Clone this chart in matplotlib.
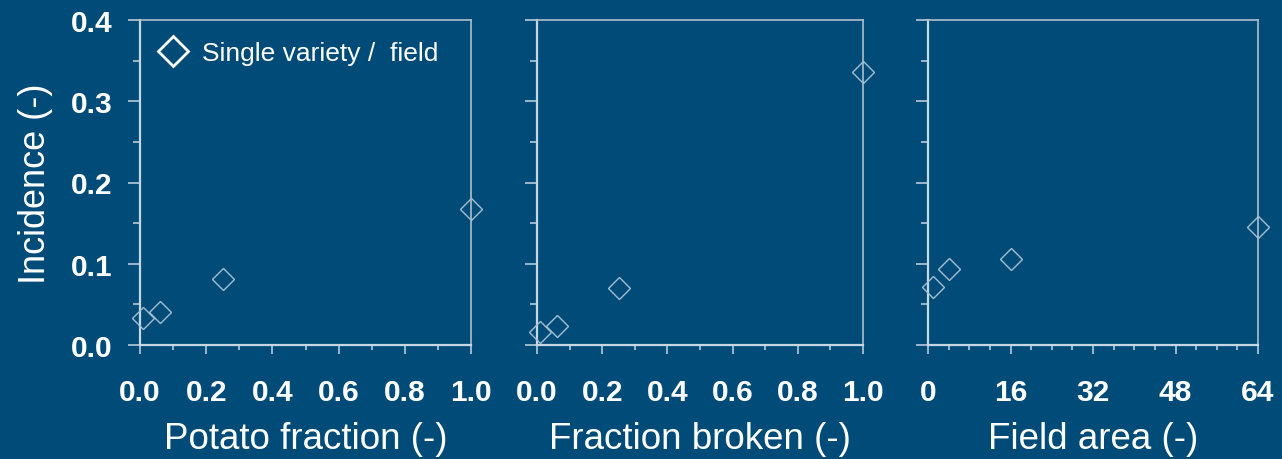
import matplotlib
matplotlib.use("Agg")
import matplotlib.pyplot as plt
from matplotlib.lines import Line2D
from matplotlib.ticker import MultipleLocator, FormatStrFormatter

# incidence vs. three landscape descriptors, one diamond per field
potato_fraction = [0.01, 0.06, 0.25, 1.0]
incidence_potato = [0.033, 0.041, 0.081, 0.167]

fraction_broken = [0.01, 0.06, 0.25, 1.0]
incidence_broken = [0.016, 0.023, 0.070, 0.336]

field_area = [1, 4, 16, 64]
incidence_area = [0.072, 0.093, 0.106, 0.145]

x_labels = ["Potato fraction (-)", "Fraction broken (-)", "Field area (-)"]
y_label = "Incidence (-)"
legend_label = "Single variety /  field"

bg = "#004b78"
frame = "#c6d6e2"
marker_edge = "#a4bfd2"

plt.rcParams['font.family'] = ['Liberation Sans', 'DejaVu Sans']

W, H = 1282, 460
fig = plt.figure(figsize=(W / 100, H / 100), dpi=100)
fig.patch.set_facecolor(bg)

# axes boxes in pixels: left, right, top, bottom
boxes = [(140, 471, 21, 346), (537, 863, 21, 346), (928, 1258, 21, 346)]
axes = []
for l, r, t, b in boxes:
    ax = fig.add_axes([l / W, (H - b) / H, (r - l) / W, (b - t) / H])
    ax.set_facecolor(bg)
    for side in ["left", "bottom"]:
        ax.spines[side].set_color(frame)
        ax.spines[side].set_linewidth(1.6)
    for side in ["top", "right"]:
        ax.spines[side].set_color("#aebfcd")
        ax.spines[side].set_linewidth(1.2)
    ax.set_ylim(0, 0.4)
    ax.yaxis.set_major_locator(MultipleLocator(0.1))
    ax.yaxis.set_minor_locator(MultipleLocator(0.05))
    ax.yaxis.set_major_formatter(FormatStrFormatter("%.1f"))
    ax.tick_params(axis="y", which="major", direction="out", length=8.5,
                   width=1.1, color=frame, pad=11, labelsize=21.5, labelcolor="white")
    ax.tick_params(axis="y", which="minor", direction="out", length=5,
                   width=1.1, color=frame)
    ax.tick_params(axis="x", which="major", direction="out", length=6.5,
                   width=1.1, color=frame, pad=17, labelsize=21.5, labelcolor="white")
    ax.tick_params(axis="x", which="minor", direction="out", length=3.6,
                   width=1.1, color=frame)
    axes.append(ax)

ax1, ax2, ax3 = axes

for ax in (ax1, ax2):
    ax.set_xlim(0, 1.0)
    ax.xaxis.set_major_locator(MultipleLocator(0.2))
    ax.xaxis.set_minor_locator(MultipleLocator(0.1))
    ax.xaxis.set_major_formatter(FormatStrFormatter("%.1f"))

ax3.set_xlim(0, 64)
ax3.xaxis.set_major_locator(MultipleLocator(16))
ax3.xaxis.set_minor_locator(MultipleLocator(4))

for ax in (ax2, ax3):
    ax.tick_params(axis="y", labelleft=False)

series = [(potato_fraction, incidence_potato),
          (fraction_broken, incidence_broken),
          (field_area, incidence_area)]
for ax, (xs, ys), xl in zip(axes, series, x_labels):
    ax.plot(xs, ys, linestyle="none", marker="D", markersize=11.5,
            markerfacecolor="none", markeredgecolor=marker_edge,
            markeredgewidth=1.0, clip_on=False, zorder=5)
    ax.set_xlabel(xl, fontsize=26.5, color="white", labelpad=11)
    for lab in ax.get_xticklabels() + ax.get_yticklabels():
        lab.set_fontweight("bold")

ax1.set_ylabel(y_label, fontsize=26, color="white", labelpad=13)

handle = Line2D([], [], linestyle="none", marker="D", markersize=15,
                markerfacecolor="none", markeredgecolor="white", markeredgewidth=2)
leg = ax1.legend([handle], [legend_label], loc="upper left",
                 bbox_to_anchor=(-0.013, 1.007), frameon=False, fontsize=19,
                 handlelength=1.0, handletextpad=0.6)
for txt in leg.get_texts():
    txt.set_color("white")

fig.savefig("out.png", dpi=100, facecolor=bg)
